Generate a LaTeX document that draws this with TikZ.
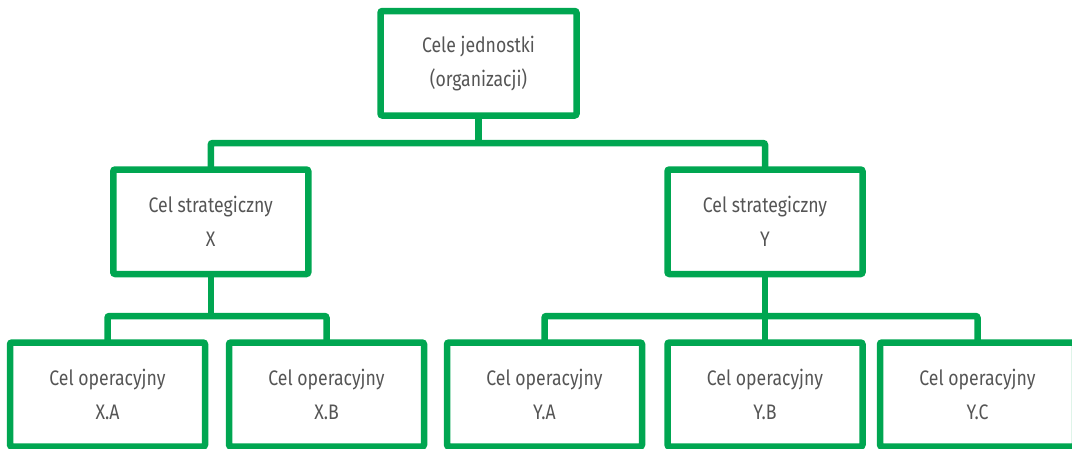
\documentclass[tikz,border=0pt]{standalone}
\usepackage{fontspec}
\setmainfont{Fira Sans}[FakeStretch=0.84]
\definecolor{boxgreen}{HTML}{00A651}
\definecolor{labelgray}{HTML}{555555}
\begin{document}
\begin{tikzpicture}[x=1pt,y=-1pt,
  goal/.style={draw=boxgreen, line width=6.5pt, rounded corners=2pt,
    minimum width=195pt, minimum height=104.5pt, inner sep=0pt, outer sep=0pt,
    align=center, text=labelgray, font=\fontsize{21}{34}\selectfont},
  link/.style={draw=boxgreen, line width=6.5pt, rounded corners=2pt}]
\useasboundingbox (0,0) rectangle (1072,448);

% bus levels
\coordinate (busA) at (0,143);
\coordinate (busB) at (0,316);

% goals
\node[goal, minimum width=196pt] (top) at (478.5,63.25) {Cele jednostki\\(organizacji)};
\node[goal] (sx) at (210.75,221.75) {Cel strategiczny\\X};
\node[goal] (sy) at (765,221.75) {Cel strategiczny\\Y};
\node[goal, minimum height=104pt] (xa) at (107.5,394.5) {Cel operacyjny\\X.A};
\node[goal, minimum height=104pt] (xb) at (326.5,394.5) {Cel operacyjny\\X.B};
\node[goal, minimum height=104pt] (ya) at (544.5,394.5) {Cel operacyjny\\Y.A};
\node[goal, minimum height=104pt] (yb) at (765,394.5) {Cel operacyjny\\Y.B};
\node[goal, minimum height=104pt] (yc) at (977.5,394.5) {Cel operacyjny\\Y.C};

% connectors
\draw[link] (top.south) -- (top.south |- busA);
\draw[link] (sx.north) |- (top.south |- busA) -| (sy.north);
\draw[link] (sx.south) -- (sx.south |- busB);
\draw[link] (xa.north) |- (sx.south |- busB) -| (xb.north);
\draw[link] (sy.south) -- (sy.south |- busB);
\draw[link] (ya.north) |- (sy.south |- busB) -| (yc.north);
\draw[link] (yb.north) -- (yb.north |- busB);
\end{tikzpicture}
\end{document}
